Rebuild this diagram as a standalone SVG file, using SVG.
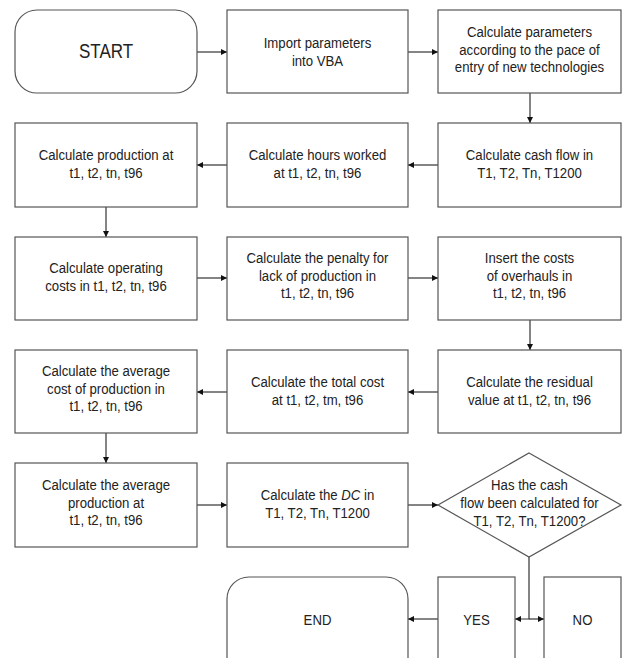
<svg xmlns="http://www.w3.org/2000/svg" width="628" height="658" viewBox="0 0 628 658">
<defs>
<style>
.b{fill:#fff;stroke:#555;stroke-width:1.2}
.t{font-family:"Liberation Sans",Arial,sans-serif;font-size:15.5px;fill:#222;text-anchor:middle}
.big{font-size:20px}
.c{fill:none;stroke:#333;stroke-width:1.2}
</style>
<marker id="ah" viewBox="0 0 10 10" refX="10" refY="5" markerWidth="6" markerHeight="6" markerUnits="userSpaceOnUse" orient="auto">
<path d="M0,0 L10,5 L0,10 Z" fill="#111"/>
</marker>
</defs>
<rect width="628" height="658" fill="#fff"/>
<g id="connectors">
<line class="c" x1="197" y1="52" x2="227" y2="52" marker-end="url(#ah)"/>
<line class="c" x1="408" y1="52" x2="438" y2="52" marker-end="url(#ah)"/>
<line class="c" x1="530" y1="93" x2="530" y2="123" marker-end="url(#ah)"/>
<line class="c" x1="438" y1="165" x2="408" y2="165" marker-end="url(#ah)"/>
<line class="c" x1="227" y1="165" x2="197" y2="165" marker-end="url(#ah)"/>
<line class="c" x1="106" y1="207" x2="106" y2="237" marker-end="url(#ah)"/>
<line class="c" x1="197" y1="278" x2="227" y2="278" marker-end="url(#ah)"/>
<line class="c" x1="408" y1="278" x2="438" y2="278" marker-end="url(#ah)"/>
<line class="c" x1="530" y1="320" x2="530" y2="350" marker-end="url(#ah)"/>
<line class="c" x1="438" y1="392" x2="408" y2="392" marker-end="url(#ah)"/>
<line class="c" x1="227" y1="392" x2="197" y2="392" marker-end="url(#ah)"/>
<line class="c" x1="106" y1="433" x2="106" y2="463" marker-end="url(#ah)"/>
<line class="c" x1="197" y1="505" x2="227" y2="505" marker-end="url(#ah)"/>
<line class="c" x1="408" y1="505" x2="438" y2="505" marker-end="url(#ah)"/>
<polyline class="c" points="529,557 529,619 515,619" marker-end="url(#ah)"/>
<line class="c" x1="529" y1="619" x2="544" y2="619" marker-end="url(#ah)"/>
<line class="c" x1="438" y1="619" x2="408" y2="619" marker-end="url(#ah)"/>
</g>
<g id="start">
<rect class="b" x="15" y="10" width="182" height="83" rx="22"/>
<g transform="scale(0.85,1)"><text class="t big" x="124.71" y="58">START</text></g>
</g>
<g id="import">
<rect class="b" x="227" y="10" width="181" height="83"/>
<g transform="scale(0.85,1)">
<text class="t" x="373.53" y="48">Import parameters</text>
<text class="t" x="373.53" y="66">into VBA</text>
</g>
</g>
<g id="calcparams">
<rect class="b" x="438" y="10" width="183" height="83"/>
<g transform="scale(0.85,1)">
<text class="t" x="622.94" y="37">Calculate parameters</text>
<text class="t" x="622.94" y="55">according to the pace of</text>
<text class="t" x="622.94" y="72">entry of new technologies</text>
</g>
</g>
<g id="production">
<rect class="b" x="15" y="123" width="182" height="84"/>
<g transform="scale(0.85,1)">
<text class="t" x="124.71" y="160">Calculate production at</text>
<text class="t" x="124.71" y="178">t1, t2, tn, t96</text>
</g>
</g>
<g id="hours">
<rect class="b" x="227" y="123" width="181" height="84"/>
<g transform="scale(0.85,1)">
<text class="t" x="373.53" y="160">Calculate hours worked</text>
<text class="t" x="373.53" y="178">at t1, t2, tn, t96</text>
</g>
</g>
<g id="cashflow">
<rect class="b" x="438" y="123" width="183" height="84"/>
<g transform="scale(0.85,1)">
<text class="t" x="622.94" y="160">Calculate cash flow in</text>
<text class="t" x="622.94" y="178">T1, T2, Tn, T1200</text>
</g>
</g>
<g id="operating">
<rect class="b" x="15" y="237" width="182" height="83"/>
<g transform="scale(0.85,1)">
<text class="t" x="124.71" y="273">Calculate operating</text>
<text class="t" x="124.71" y="291">costs in t1, t2, tn, t96</text>
</g>
</g>
<g id="penalty">
<rect class="b" x="227" y="237" width="181" height="83"/>
<g transform="scale(0.85,1)">
<text class="t" x="373.53" y="263">Calculate the penalty for</text>
<text class="t" x="373.53" y="281">lack of production in</text>
<text class="t" x="373.53" y="298">t1, t2, tn, t96</text>
</g>
</g>
<g id="overhauls">
<rect class="b" x="438" y="237" width="183" height="83"/>
<g transform="scale(0.85,1)">
<text class="t" x="622.94" y="263">Insert the costs</text>
<text class="t" x="622.94" y="281">of overhauls in</text>
<text class="t" x="622.94" y="298">t1, t2, tn, t96</text>
</g>
</g>
<g id="avgcost">
<rect class="b" x="15" y="350" width="182" height="83"/>
<g transform="scale(0.85,1)">
<text class="t" x="124.71" y="376">Calculate the average</text>
<text class="t" x="124.71" y="394">cost of production in</text>
<text class="t" x="124.71" y="411">t1, t2, tn, t96</text>
</g>
</g>
<g id="totalcost">
<rect class="b" x="227" y="350" width="181" height="83"/>
<g transform="scale(0.85,1)">
<text class="t" x="373.53" y="387">Calculate the total cost</text>
<text class="t" x="373.53" y="405">at t1, t2, tm, t96</text>
</g>
</g>
<g id="residual">
<rect class="b" x="438" y="350" width="183" height="83"/>
<g transform="scale(0.85,1)">
<text class="t" x="622.94" y="387">Calculate the residual</text>
<text class="t" x="622.94" y="405">value at t1, t2, tn, t96</text>
</g>
</g>
<g id="avgprod">
<rect class="b" x="15" y="463" width="182" height="84"/>
<g transform="scale(0.85,1)">
<text class="t" x="124.71" y="490">Calculate the average</text>
<text class="t" x="124.71" y="508">production at</text>
<text class="t" x="124.71" y="525">t1, t2, tn, t96</text>
</g>
</g>
<g id="dc">
<rect class="b" x="227" y="463" width="181" height="84"/>
<g transform="scale(0.85,1)">
<text class="t" x="373.53" y="500">Calculate the <tspan font-style="italic">DC</tspan> in</text>
<text class="t" x="373.53" y="518">T1, T2, Tn, T1200</text>
</g>
</g>
<g id="decision">
<polygon class="b" points="529,453 621,505 529,557 438,505"/>
<g transform="scale(0.85,1)">
<text class="t" x="622.94" y="490">Has the cash</text>
<text class="t" x="622.94" y="508">flow been calculated for</text>
<text class="t" x="622.94" y="526">T1, T2, Tn, T1200?</text>
</g>
</g>
<g id="end">
<rect class="b" x="227" y="577" width="181" height="110" rx="22"/>
<g transform="scale(0.85,1)"><text class="t" x="373.53" y="625">END</text></g>
</g>
<g id="yes">
<rect class="b" x="438" y="577" width="77" height="110"/>
<g transform="scale(0.85,1)"><text class="t" x="560.59" y="625">YES</text></g>
</g>
<g id="no">
<rect class="b" x="544" y="577" width="77" height="110"/>
<g transform="scale(0.85,1)"><text class="t" x="685.29" y="625">NO</text></g>
</g>
</svg>
